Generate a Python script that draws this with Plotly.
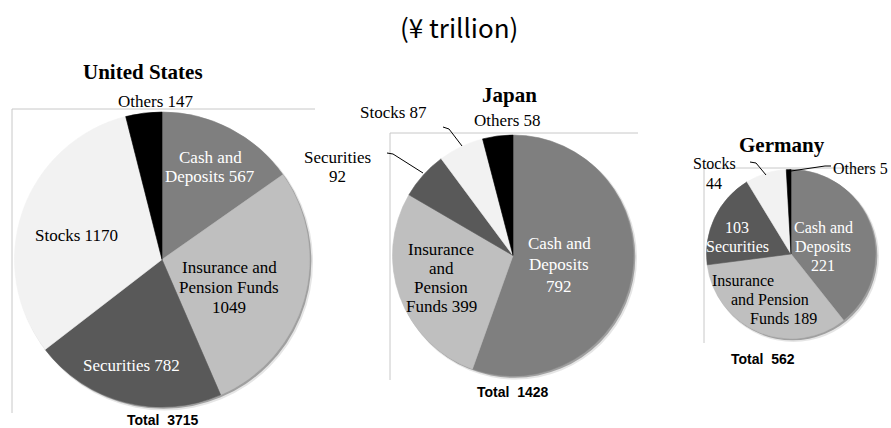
import plotly.graph_objects as go

# Household financial assets by country (¥ trillion)
categories = ["Cash and Deposits", "Insurance and Pension Funds", "Securities", "Stocks", "Others"]
countries = ["United States", "Japan", "Germany"]
us_values = [567, 1049, 782, 1170, 147]
jp_values = [792, 399, 92, 87, 58]
de_values = [221, 189, 103, 44, 5]
series = [us_values, jp_values, de_values]

slice_colors = ["#7f7f7f", "#bfbfbf", "#595959", "#f2f2f2", "#000000"]

W, H = 891, 428


def fx(x):
    return x / W


def fy(y):
    return 1 - y / H


# pie centre and radius in pixels
pie_geom = [(162, 259.5, 147.5), (513, 255.5, 120.5), (791, 254, 84.5)]

fig = go.Figure()

for vals, (cx, cy, r) in zip(series, pie_geom):
    # soft drop shadow under each pie
    for dx, dy, dr, col in [(2.5, 2.5, 1.0, "rgba(0,0,0,0.10)"), (1.5, 1.5, 0.3, "rgba(0,0,0,0.30)")]:
        fig.add_trace(go.Pie(
            values=[1], labels=["shadow"], sort=False, textinfo="none",
            hoverinfo="skip", showlegend=False,
            marker=dict(colors=[col], line=dict(width=0)),
            domain=dict(x=[fx(cx + dx - r - dr), fx(cx + dx + r + dr)],
                        y=[fy(cy + dy + r + dr), fy(cy + dy - r - dr)]),
        ))
    fig.add_trace(go.Pie(
        values=vals, labels=categories, sort=False, direction="clockwise",
        rotation=0, textinfo="none", showlegend=False,
        marker=dict(colors=slice_colors, line=dict(color=slice_colors, width=0.6)),
        domain=dict(x=[fx(cx - r), fx(cx + r)], y=[fy(cy + r), fy(cy - r)]),
    ))

us, jp, de = us_values, jp_values, de_values
totals = [sum(v) for v in series]

SERIF = "Liberation Serif, Times New Roman, serif"
BLACK, WHITE = "#000000", "#ffffff"

# (lines, x, centre y, line spacing, size, colour, xanchor)
labels = [
    # United States
    ([f"Others {us[4]}"], 156, 102, 20, 17, BLACK, "center"),
    (["Cash and", f"Deposits {us[0]}"], 210, 167, 20, 17, WHITE, "center"),
    (["Insurance and", "Pension Funds", f"{us[1]}"], 229, 287, 20, 17, BLACK, "center"),
    ([f"Securities {us[2]}"], 131, 365, 20, 17, WHITE, "center"),
    ([f"Stocks {us[3]}"], 76, 235, 20, 17, BLACK, "center"),
    # Japan
    ([f"Others {jp[4]}"], 508, 120, 20, 17, BLACK, "center"),
    ([f"Stocks {jp[3]}"], 393, 113, 20, 17, BLACK, "center"),
    (["Securities", f"{jp[2]}"], 337, 167, 20, 17, BLACK, "center"),
    (["Cash and", "Deposits", f"{jp[0]}"], 559, 264.5, 21.5, 17, WHITE, "center"),
    (["Insurance", "and", "Pension", f"Funds {jp[1]}"], 441, 278, 19, 17, BLACK, "center"),
    # Germany
    (["Stocks", f"{de[3]}"], 714, 173, 20, 16, BLACK, "center"),
    ([f"Others {de[4]}"], 831, 168, 20, 16, BLACK, "left"),
    ([f"{de[2]}", "Securities"], 737, 237, 18, 16, WHITE, "center"),
    (["Cash and", "Deposits", f"{de[0]}"], 823, 246.5, 19, 16, WHITE, "center"),
    (["Insurance"], 743, 280, 19, 16, BLACK, "center"),
    (["and Pension"], 770, 299, 19, 16, BLACK, "center"),
    ([f"Funds {de[1]}"], 783, 318, 19, 16, BLACK, "center"),
]

annotations = []
for lines, x, cy, sp, size, col, xa in labels:
    n = len(lines)
    for i, line in enumerate(lines):
        y = cy + (i - (n - 1) / 2) * sp
        annotations.append(dict(
            text=line, x=fx(x), y=fy(y), xref="paper", yref="paper",
            xanchor=xa, yanchor="middle", showarrow=False, align="center",
            font=dict(family=SERIF, size=size, color=col),
        ))

# country headings and totals
headings = [(143, 72, 21), (510, 95, 21), (782, 145, 21)]
total_pos = [(163, 420), (513, 392), (763, 359)]
for name, (hx, hy, hs), tot, (tx, ty) in zip(countries, headings, totals, total_pos):
    annotations.append(dict(
        text=f"<b>{name}</b>", x=fx(hx), y=fy(hy), xref="paper", yref="paper",
        xanchor="center", yanchor="middle", showarrow=False,
        font=dict(family=SERIF, size=hs, color=BLACK),
    ))
    annotations.append(dict(
        text=f"<b>Total  {tot}</b>", x=fx(tx), y=fy(ty), xref="paper", yref="paper",
        xanchor="center", yanchor="middle", showarrow=False,
        font=dict(family="Liberation Sans, Arial, sans-serif", size=14, color=BLACK),
    ))

annotations.append(dict(
    text="(¥ trillion)", x=fx(459), y=fy(27), xref="paper", yref="paper",
    xanchor="center", yanchor="middle", showarrow=False,
    font=dict(family="Noto Sans CJK JP", size=26, color=BLACK),
))

shapes = []
# plot-area frame edges (top and left)
frames = [(12, 109, 315, 413), (390, 133, 638, 380), (704, 168, 876, 343)]
for x0, y0, x1, y1 in frames:
    shapes.append(dict(type="path", xref="paper", yref="paper", layer="below",
                       path=f"M {fx(x0)} {fy(y1)} L {fx(x0)} {fy(y0)} L {fx(x1)} {fy(y0)}",
                       line=dict(color="#c8c8c8", width=1)))

# leader lines for small slices
leaders = [
    [(443, 127), (449, 129), (462, 146)],
    [(387, 153), (393, 154), (423, 173)],
    [(750, 162), (756, 163), (766, 175)],
    [(791, 171), (825, 166), (831, 166)],
]
for pts in leaders:
    path = "M " + " L ".join(f"{fx(x)} {fy(y)}" for x, y in pts)
    shapes.append(dict(type="path", xref="paper", yref="paper", path=path,
                       line=dict(color=BLACK, width=1)))

fig.update_layout(
    width=W, height=H, margin=dict(l=0, r=0, t=0, b=0),
    paper_bgcolor="white", plot_bgcolor="white",
    annotations=annotations, shapes=shapes, showlegend=False,
)

fig.write_html("out.html")
